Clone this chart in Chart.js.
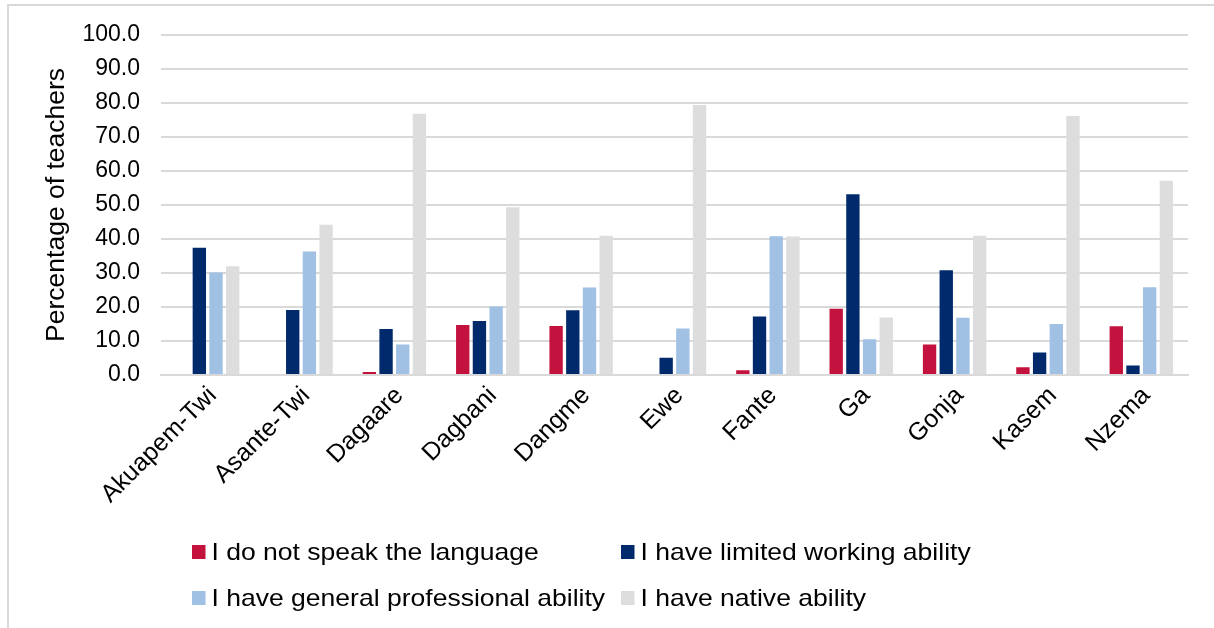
<!DOCTYPE html>
<html>
<head>
<meta charset="utf-8">
<script src="https://cdn.jsdelivr.net/npm/chart.js@4"></script>
<style>
  html, body { margin: 0; padding: 0; background: #fff; }
  #wrap { position: relative; width: 1214px; height: 628px; overflow: hidden; }
  #frame { position: absolute; left: 7px; top: 4px; width: 1240px; height: 660px; border: 2px solid #d9d9d9; box-sizing: border-box; }
  #chart { position: absolute; left: 0; top: 0; }
</style>
</head>
<body>
<div id="wrap">
  <div id="frame"></div>
  <canvas id="chart" width="1214" height="628"></canvas>
</div>
<script>
const languages = ['Akuapem-Twi', 'Asante-Twi', 'Dagaare', 'Dagbani', 'Dangme', 'Ewe', 'Fante', 'Ga', 'Gonja', 'Kasem', 'Nzema'];
const seriesNames = ['I do not speak the language', 'I have limited working ability', 'I have general professional ability', 'I have native ability'];
const seriesColors = ['#c3123d', '#002a6c', '#a0c0e4', '#dddddd'];

const notSpeak     = [0.0, 0.0, 0.9, 14.7, 14.4, 0.3, 1.4, 19.5, 9.0, 2.3, 14.3];
const limited      = [37.4, 19.1, 13.5, 15.9, 19.0, 5.1, 17.2, 53.1, 30.8, 6.6, 2.8];
const professional = [30.1, 36.3, 9.0, 20.1, 25.7, 13.7, 40.8, 10.5, 16.8, 15.0, 25.8];
const native       = [32.0, 44.2, 76.8, 49.3, 40.9, 79.4, 40.7, 16.9, 40.9, 76.1, 57.1];

const FONT = '"Liberation Sans", Arial, sans-serif';

// legend laid out in two fixed columns like the original
const gridLegend = {
    id: 'gridLegend',
    afterDraw(chart) {
        const c = chart.ctx;
        const cols = [192, 621];
        const rows = [552, 598];
        c.save();
        c.font = '24px ' + FONT;
        c.textBaseline = 'middle';
        seriesNames.forEach((name, i) => {
            const x = cols[i % 2];
            const y = rows[Math.floor(i / 2)];
            c.fillStyle = seriesColors[i];
            c.fillRect(x, y - 7, 13.5, 14);
            c.fillStyle = '#000';
            c.save();
            c.translate(x + 19.5, y + 1);
            c.scale(1.105, 1);  // original text is a bit wide
            c.fillText(name, 0, 0);
            c.restore();
        });
        c.restore();
    }
};

const values = [notSpeak, limited, professional, native];

new Chart(document.getElementById('chart'), {
    type: 'bar',
    data: {
        labels: languages,
        datasets: values.map((v, i) => ({
            label: seriesNames[i],
            data: v,
            backgroundColor: seriesColors[i],
            borderWidth: 0,
            categoryPercentage: 0.715,
            barPercentage: 0.8,
        }))
    },
    options: {
        responsive: false,
        animation: false,
        layout: { padding: { left: 0, right: 26, top: 20, bottom: 100 } },
        plugins: {
            legend: { display: false },
            tooltip: { enabled: false }
        },
        scales: {
            x: {
                grid: { display: false, drawTicks: false },
                border: { display: true, color: '#d9d9d9', width: 2 },
                ticks: {
                    color: '#000',
                    font: { family: FONT, size: 25 },
                    minRotation: 45,
                    maxRotation: 45,
                    padding: 6,
                    labelOffset: 5,
                    autoSkip: false,
                },
                afterFit(scale) { scale.height = 153; }
            },
            y: {
                min: 0,
                max: 100,
                ticks: {
                    stepSize: 10,
                    color: '#000',
                    font: { family: FONT, size: 23 },
                    padding: 21,
                    callback: v => v.toFixed(1),
                },
                grid: { color: '#d9d9d9', lineWidth: 2, drawTicks: false },
                border: { display: false },
                title: {
                    display: true,
                    text: 'Percentage of teachers',
                    color: '#000',
                    font: { family: FONT, size: 26.5 },
                    padding: { top: 41, bottom: 0 },
                },
                afterFit(scale) { scale.width = 161; }
            }
        }
    },
    plugins: [gridLegend]
});
</script>
</body>
</html>
